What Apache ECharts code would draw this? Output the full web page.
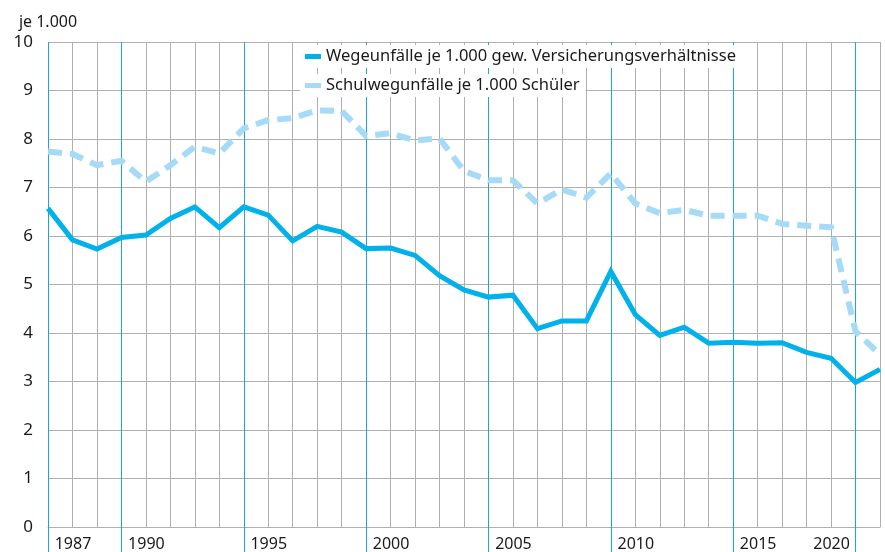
<!DOCTYPE html>
<html>
<head>
<meta charset="utf-8">
<script src="https://cdn.jsdelivr.net/npm/echarts@6/dist/echarts.min.js"></script>
<style>
  html, body { margin: 0; padding: 0; background: #fff; }
  #chart { width: 885px; height: 552px; }
</style>
</head>
<body>
<div id="chart"></div>
<script>
// years 1987..2021
const years = [1987, 1988, 1989, 1990, 1991, 1992, 1993, 1994, 1995, 1996, 1997, 1998,
  1999, 2000, 2001, 2002, 2003, 2004, 2005, 2006, 2007, 2008, 2009, 2010, 2011, 2012,
  2013, 2014, 2015, 2016, 2017, 2018, 2019, 2020, 2021]

const wegeunfaelle = [6.57, 5.92, 5.73, 5.97, 6.02, 6.36, 6.60, 6.17, 6.60, 6.43, 5.90, 6.20,
  6.08, 5.74, 5.75, 5.60, 5.18, 4.89, 4.74, 4.78, 4.09, 4.25, 4.25, 5.27, 4.38, 3.95,
  4.12, 3.79, 3.81, 3.79, 3.80, 3.60, 3.48, 2.98, 3.25]

const schulwegunfaelle = [7.74, 7.69, 7.46, 7.55, 7.12, 7.46, 7.84, 7.70, 8.22, 8.39, 8.43, 8.59,
  8.58, 8.06, 8.12, 7.97, 8.01, 7.34, 7.15, 7.15, 6.67, 6.96, 6.79, 7.29, 6.67, 6.47,
  6.54, 6.42, 6.42, 6.42, 6.25, 6.21, 6.18, 4.03, 3.56]

const labelYears = [1987, 1990, 1995, 2000, 2005, 2010, 2015, 2020]
const seriesNames = ['Wegeunfälle je 1.000 gew. Versicherungsverhältnisse', 'Schulwegunfälle je 1.000 Schüler']

const FONT = 'Noto Sans'
const TEXT = '#1a1a1a'
const SOLID = '#00b1ea'
const LIGHT = '#a6dbf7'
const MARK = '#1fa3de'
const GRID = '#b0b0b0'

const grayYears = years.filter(y => labelYears.indexOf(y) < 0)

const chart = echarts.init(document.getElementById('chart'))

function pairs(values) {
  return years.map((y, i) => [y, values[i]])
}

const legendBase = {
  orient: 'vertical',
  icon: 'rect',
  z: 10,
  itemWidth: 16,
  itemHeight: 5,
  backgroundColor: '#fff',
  padding: [3, 6, 3, 5],
  textStyle: { fontFamily: FONT, fontSize: 16.5, color: TEXT }
}

const option = {
  animation: false,
  backgroundColor: '#fff',
  textStyle: { fontFamily: FONT },
  legend: [
    Object.assign({}, legendBase, { left: 300, top: 45, data: [seriesNames[0]] }),
    Object.assign({}, legendBase, { left: 300, top: 74, data: [seriesNames[1]] })
  ],
  grid: {
    left: 48,
    right: 5,
    top: 42,
    bottom: 25
  },
  xAxis: [
    {
      // labels, blue lines + blue ticks below the axis at the marked years
      type: 'value',
      min: 1987,
      max: 2021,
      interval: 1,
      z: 1,
      axisLine: { show: true, lineStyle: { color: GRID, width: 1 } },
      axisTick: {
        show: true,
        customValues: labelYears,
        length: 25,
        lineStyle: { color: MARK, width: 1 }
      },
      axisLabel: {
        margin: 9,
        color: TEXT,
        fontFamily: FONT,
        fontSize: 16,
        formatter: function (v) {
          if (labelYears.indexOf(v) < 0) return ''
          return v === 2020 ? '{r|' + v + '}' : '{l|' + v + '}'
        },
        rich: {
          l: { fontFamily: FONT, fontSize: 16, color: TEXT, padding: [0, 0, 0, 50] },
          r: { fontFamily: FONT, fontSize: 16, color: TEXT, padding: [0, 48, 0, 0] }
        }
      },
      splitLine: { show: true, lineStyle: { color: MARK, width: 1 } }
    },
    {
      // gray grid lines at the other years only
      type: 'value',
      position: 'top',
      min: 1987,
      max: 2021,
      interval: 1,
      z: 0,
      axisLine: { show: false },
      axisTick: {
        show: true,
        customValues: grayYears,
        length: 0,
        lineStyle: { color: 'rgba(0,0,0,0)' }
      },
      axisLabel: { show: false },
      splitLine: { show: true, lineStyle: { color: GRID, width: 1 } }
    }
  ],
  yAxis: {
    type: 'value',
    min: 0,
    max: 10,
    interval: 1,
    z: 0,
    name: 'je 1.000',
    nameLocation: 'end',
    nameGap: 12,
    nameTextStyle: { fontFamily: FONT, fontSize: 16, color: TEXT },
    axisLine: { show: false },
    axisTick: { show: false },
    axisLabel: { margin: 15, color: TEXT, fontFamily: FONT, fontSize: 17 },
    splitLine: { show: true, lineStyle: { color: GRID, width: 1 } }
  },
  series: [
    {
      name: seriesNames[0],
      type: 'line',
      data: pairs(wegeunfaelle),
      z: 3,
      symbol: 'none',
      itemStyle: { color: SOLID },
      lineStyle: { color: SOLID, width: 5, join: 'miter' }
    },
    {
      name: seriesNames[1],
      type: 'line',
      data: pairs(schulwegunfaelle),
      z: 3,
      symbol: 'none',
      itemStyle: { color: LIGHT },
      lineStyle: { color: LIGHT, width: 6, type: [14, 8], join: 'miter' }
    }
  ]
}

chart.setOption(option)
</script>
</body>
</html>
